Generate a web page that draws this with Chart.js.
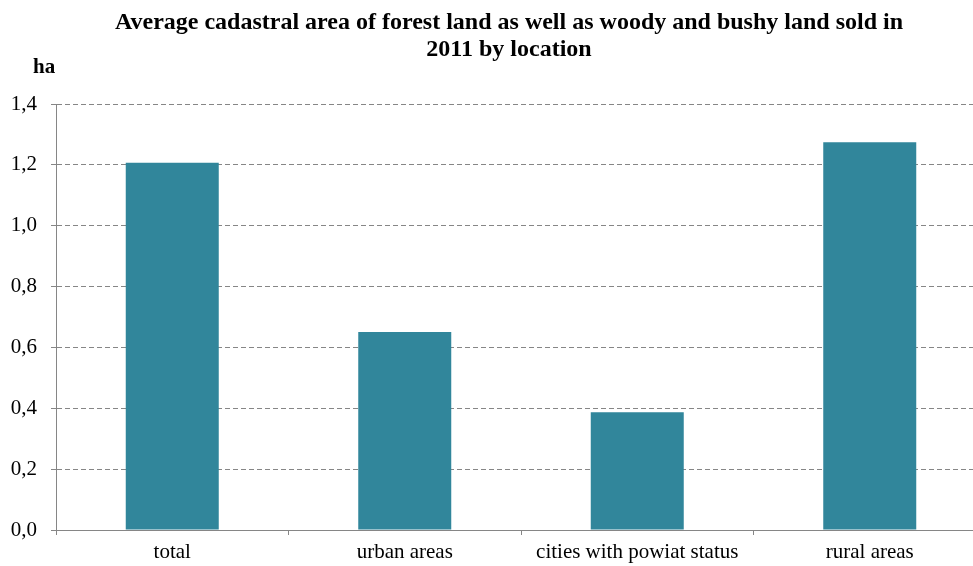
<!DOCTYPE html>
<html>
<head>
<meta charset="utf-8">
<script src="https://cdn.jsdelivr.net/npm/chart.js@4"></script>
<style>
  html, body { margin: 0; padding: 0; background: #fff; overflow: hidden; }
  #wrap { width: 990px; height: 566px; position: relative; }
</style>
</head>
<body>
<div id="wrap"><canvas id="chart"></canvas></div>
<script>
// Dane
const categories = ['total', 'urban areas', 'cities with powiat status', 'rural areas'];
const values = [1.207, 0.651, 0.387, 1.274];
const titleLines = ['Average cadastral area of forest land as well as woody and bushy land sold in', '2011 by location'];
const unitLabel = 'ha';

const BAR_COLOR = '#31869b';
const AXIS_COLOR = '#868686';
const FONT = '"Liberation Serif", "Times New Roman", serif';

// tytuł i jednostka rysowane bezpośrednio na płótnie
const titlePlugin = {
  id: 'titleText',
  afterDraw(chart) {
    const ctx = chart.ctx;
    ctx.save();
    ctx.fillStyle = '#000';
    ctx.textAlign = 'center';
    ctx.textBaseline = 'middle';
    ctx.font = 'bold 24px ' + FONT;
    ctx.fillText(titleLines[0], 509, 23);
    ctx.fillText(titleLines[1], 509, 50);
    ctx.textAlign = 'left';
    ctx.font = 'bold 21px ' + FONT;
    ctx.fillText(unitLabel, 33, 68);
    ctx.restore();
  }
};

new Chart(document.getElementById('chart'), {
  type: 'bar',
  data: {
    labels: categories,
    datasets: [{
      data: values,
      backgroundColor: BAR_COLOR,
      borderWidth: 0,
      barPercentage: 0.4,
      categoryPercentage: 1.0
    }]
  },
  options: {
    responsive: true,
    maintainAspectRatio: false,
    animation: false,
    layout: { padding: { top: 104, right: 4, left: 0, bottom: 0 } },
    plugins: {
      legend: { display: false },
      tooltip: { enabled: false }
    },
    scales: {
      x: {
        offset: true,
        grid: {
          offset: true,
          drawOnChartArea: false,
          color: AXIS_COLOR,
          tickLength: 5
        },
        border: { color: AXIS_COLOR, width: 1 },
        ticks: {
          color: '#000',
          font: { family: FONT, size: 21 },
          padding: 5,
          maxRotation: 0
        },
        afterFit(scale) { scale.height = 36; }
      },
      y: {
        min: 0,
        max: 1.4,
        ticks: {
          stepSize: 0.2,
          color: '#000',
          font: { family: FONT, size: 21 },
          padding: 14,
          callback: v => v.toFixed(1).replace('.', ',')
        },
        grid: {
          color: AXIS_COLOR,
          tickLength: 5,
          tickBorderDash: []
        },
        border: { color: AXIS_COLOR, width: 1, dash: [5, 3] },
        afterFit(scale) { scale.width = 56; }
      }
    }
  },
  plugins: [titlePlugin]
});
</script>
</body>
</html>
